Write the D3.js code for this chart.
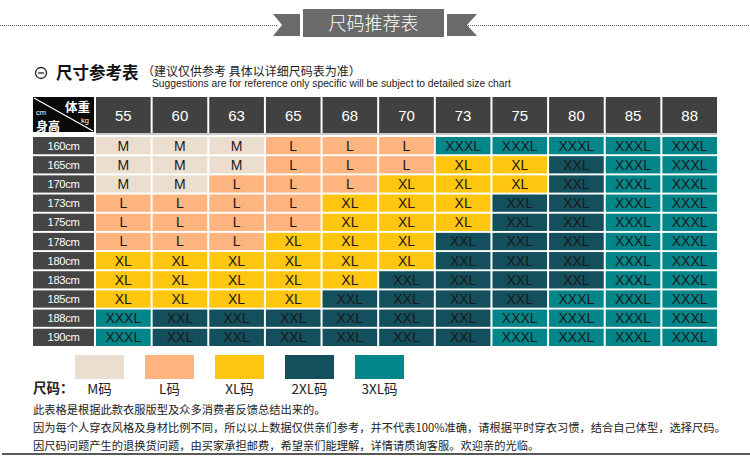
<!DOCTYPE html>
<html>
<head>
<meta charset="utf-8">
<script src="https://cdn.jsdelivr.net/npm/d3@7"></script>
<style>
  body { margin: 0; background: #fff; }
  svg { display: block; }
</style>
</head>
<body>
<div class="canvas"></div>
<script>
// weights along the top, heights down the side
const weights = ['55', '60', '63', '65', '68', '70', '73', '75', '80', '85', '88'];
const heights = ['160cm', '165cm', '170cm', '173cm', '175cm', '178cm', '180cm', '183cm', '185cm', '188cm', '190cm'];

// one row per height, one entry per weight
const sizeRows = [
    ['M', 'M', 'M', 'L', 'L', 'L', 'XXXL', 'XXXL', 'XXXL', 'XXXL', 'XXXL'],
    ['M', 'M', 'M', 'L', 'L', 'L', 'XL', 'XL', 'XXL', 'XXXL', 'XXXL'],
    ['M', 'M', 'L', 'L', 'L', 'XL', 'XL', 'XL', 'XXL', 'XXXL', 'XXXL'],
    ['L', 'L', 'L', 'L', 'XL', 'XL', 'XL', 'XXL', 'XXL', 'XXXL', 'XXXL'],
    ['L', 'L', 'L', 'L', 'XL', 'XL', 'XL', 'XXL', 'XXL', 'XXXL', 'XXXL'],
    ['L', 'L', 'L', 'XL', 'XL', 'XL', 'XXL', 'XXL', 'XXL', 'XXXL', 'XXXL'],
    ['XL', 'XL', 'XL', 'XL', 'XL', 'XL', 'XXL', 'XXL', 'XXL', 'XXXL', 'XXXL'],
    ['XL', 'XL', 'XL', 'XL', 'XL', 'XXL', 'XXL', 'XXL', 'XXL', 'XXXL', 'XXXL'],
    ['XL', 'XL', 'XL', 'XL', 'XXL', 'XXL', 'XXL', 'XXL', 'XXXL', 'XXXL', 'XXXL'],
    ['XXXL', 'XXL', 'XXL', 'XXL', 'XXL', 'XXL', 'XXL', 'XXXL', 'XXXL', 'XXXL', 'XXXL'],
    ['XXXL', 'XXL', 'XXL', 'XXL', 'XXL', 'XXL', 'XXL', 'XXXL', 'XXXL', 'XXXL', 'XXXL']
];

const sizeKeys = ['M', 'L', 'XL', 'XXL', 'XXXL'];
const legendLabels = ['M码', 'L码', 'XL码', '2XL码', '3XL码'];
const sizeColours = ['#ecdecf', '#fdb47e', '#fec60f', '#134f5c', '#03868a'];

const notes = [
    '此表格是根据此款衣服版型及众多消费者反馈总结出来的。',
    '因为每个人穿衣风格及身材比例不同，所以以上数据仅供亲们参考，并不代表100%准确，请根据平时穿衣习惯，结合自己体型，选择尺码。',
    '因尺码问题产生的退换货问题，由买家承担邮费，希望亲们能理解，详情请质询客服。欢迎亲的光临。'
];

const cjk = '"Noto Sans CJK SC", sans-serif';
const latin = '"Liberation Sans", Arial, sans-serif';

const dims = { width: 750, height: 473 };

const svg = d3.select('.canvas')
    .append('svg')
    .attr('width', dims.width)
    .attr('height', dims.height)
;

// ---- banner at the top
const banner = svg.append('g');
banner.append('line')
    .attr('x1', 0).attr('x2', 278).attr('y1', 25.5).attr('y2', 25.5)
    .attr('stroke', '#666').attr('stroke-dasharray', '1,1');
banner.append('line')
    .attr('x1', 468).attr('x2', 750).attr('y1', 25.5).attr('y2', 25.5)
    .attr('stroke', '#666').attr('stroke-dasharray', '1,1');
banner.append('polygon')
    .attr('points', '273,14 300,14 300,36 273,36 282,25')
    .attr('fill', '#6a6a6a');
banner.append('polygon')
    .attr('points', '447,14 477,14 467,25 477,36 447,36')
    .attr('fill', '#6a6a6a');
banner.append('rect')
    .attr('x', 303).attr('y', 9).attr('width', 141).attr('height', 28)
    .attr('fill', '#6a6a6a');
banner.append('text')
    .attr('x', 373.5).attr('y', 29.5)
    .attr('text-anchor', 'middle')
    .attr('font-family', cjk).attr('font-size', 18).attr('font-weight', 300)
    .attr('fill', '#fff')
    .text('尺码推荐表');

// ---- section title
const title = svg.append('g');
title.append('circle')
    .attr('cx', 41).attr('cy', 73).attr('r', 5.5)
    .attr('fill', 'none').attr('stroke', '#222').attr('stroke-width', 1.3);
title.append('line')
    .attr('x1', 38).attr('x2', 44).attr('y1', 73).attr('y2', 73)
    .attr('stroke', '#222').attr('stroke-width', 1.3);
title.append('text')
    .attr('x', 56).attr('y', 79)
    .attr('font-family', cjk).attr('font-size', 16.5).attr('font-weight', 700)
    .attr('fill', '#111')
    .text('尺寸参考表');
title.append('text')
    .attr('x', 142).attr('y', 75.5)
    .attr('font-family', cjk).attr('font-size', 12)
    .attr('fill', '#222')
    .text('（建议仅供参考 具体以详细尺码表为准）');
title.append('text')
    .attr('x', 152).attr('y', 87)
    .attr('font-family', latin).attr('font-size', 10.3)
    .attr('fill', '#222')
    .text('Suggestions are for reference only specific will be subject to detailed size chart');

// ---- scales
const x = d3.scaleBand()
    .domain(weights)
    .range([96, 717])
    .paddingInner(0.035)
;
const y = d3.scaleBand()
    .domain(heights)
    .range([137, 346])
    .paddingInner(0.1)
;
const colour = d3.scaleOrdinal()
    .domain(sizeKeys)
    .range(sizeColours)
;

const header = { top: 97, bottom: 133 };
const rowLabel = { x: 33, width: 61 };

// ---- header row
const headGroup = svg.append('g');
headGroup.selectAll('rect')
    .data(weights)
    .enter()
    .append('rect')
    .attr('x', d => x(d))
    .attr('y', header.top)
    .attr('width', x.bandwidth())
    .attr('height', header.bottom - header.top)
    .attr('fill', '#414141');
headGroup.selectAll('text')
    .data(weights)
    .enter()
    .append('text')
    .attr('x', d => x(d) + x.bandwidth() / 2)
    .attr('y', (header.top + header.bottom) / 2 + 5.5)
    .attr('text-anchor', 'middle')
    .attr('font-family', latin).attr('font-size', 15)
    .attr('fill', '#fff')
    .text(d => d);
headGroup.append('rect')
    .attr('x', x.range()[0]).attr('y', header.bottom)
    .attr('width', x.range()[1] - x.range()[0]).attr('height', 2)
    .attr('fill', '#c9c9c9');

// corner cell
const corner = svg.append('g');
corner.append('rect')
    .attr('x', rowLabel.x).attr('y', header.top)
    .attr('width', rowLabel.width).attr('height', header.bottom - header.top - 1)
    .attr('fill', '#0a0a0a');
corner.append('line')
    .attr('x1', rowLabel.x + 1).attr('y1', header.top + 1)
    .attr('x2', rowLabel.x + rowLabel.width - 1).attr('y2', header.bottom - 2)
    .attr('stroke', '#fff').attr('stroke-width', 1.2);
corner.append('text')
    .attr('x', 90).attr('y', 112)
    .attr('text-anchor', 'end')
    .attr('font-family', cjk).attr('font-size', 12.5).attr('font-weight', 700)
    .attr('fill', '#fff')
    .text('体重');
corner.append('text')
    .attr('x', 89).attr('y', 122.5)
    .attr('text-anchor', 'end')
    .attr('font-family', latin).attr('font-size', 7.5)
    .attr('fill', '#fff')
    .text('kg');
corner.append('text')
    .attr('x', 36).attr('y', 114.5)
    .attr('font-family', latin).attr('font-size', 7.5)
    .attr('fill', '#fff')
    .text('cm');
corner.append('text')
    .attr('x', 36).attr('y', 131)
    .attr('font-family', cjk).attr('font-size', 12).attr('font-weight', 700)
    .attr('fill', '#fff')
    .text('身高');

// ---- row labels
const rowGroup = svg.append('g');
rowGroup.selectAll('rect')
    .data(heights)
    .enter()
    .append('rect')
    .attr('x', rowLabel.x)
    .attr('y', d => y(d))
    .attr('width', rowLabel.width)
    .attr('height', y.bandwidth())
    .attr('fill', '#454545');
rowGroup.selectAll('text')
    .data(heights)
    .enter()
    .append('text')
    .attr('x', rowLabel.x + rowLabel.width / 2)
    .attr('y', d => y(d) + y.bandwidth() / 2 + 4)
    .attr('text-anchor', 'middle')
    .attr('font-family', latin).attr('font-size', 11.2)
    .attr('letter-spacing', -0.3)
    .attr('fill', '#fff')
    .text(d => d);

// ---- cells
const cells = [];
heights.forEach((h, r) => {
    weights.forEach((w, c) => {
        cells.push({ h, w, size: sizeRows[r][c] });
    });
});

const cellGroup = svg.append('g');
const cell = cellGroup.selectAll('g')
    .data(cells)
    .enter()
    .append('g')
    .attr('transform', d => `translate(${x(d.w)}, ${y(d.h)})`);
cell.append('rect')
    .attr('width', x.bandwidth())
    .attr('height', y.bandwidth())
    .attr('fill', d => colour(d.size));
cell.append('text')
    .attr('x', x.bandwidth() / 2)
    .attr('y', y.bandwidth() / 2 + 5)
    .attr('text-anchor', 'middle')
    .attr('font-family', latin).attr('font-size', 14)
    .attr('fill', '#1a1a1a')
    .text(d => d.size);

// ---- legend
const lx = d3.scaleBand()
    .domain(sizeKeys)
    .range([75, 404])
    .paddingInner(0.3)
;
const legendGroup = svg.append('g');
legendGroup.append('text')
    .attr('x', 33).attr('y', 393)
    .attr('font-family', cjk).attr('font-size', 13.5).attr('font-weight', 700)
    .attr('fill', '#222')
    .text('尺码：');
legendGroup.selectAll('rect')
    .data(sizeKeys)
    .enter()
    .append('rect')
    .attr('x', d => lx(d))
    .attr('y', 355)
    .attr('width', lx.bandwidth())
    .attr('height', 24)
    .attr('fill', d => colour(d));
legendGroup.selectAll('text.lbl')
    .data(sizeKeys)
    .enter()
    .append('text')
    .attr('class', 'lbl')
    .attr('x', d => lx(d) + lx.bandwidth() / 2)
    .attr('y', 394)
    .attr('text-anchor', 'middle')
    .attr('font-family', cjk).attr('font-size', 13.5)
    .attr('fill', '#222')
    .text((d, i) => legendLabels[i]);

// ---- notes
svg.append('g').selectAll('text')
    .data(notes)
    .enter()
    .append('text')
    .attr('x', 33)
    .attr('y', (d, i) => 413.5 + i * 18)
    .attr('font-family', cjk).attr('font-size', 11.25)
    .attr('fill', '#222')
    .text(d => d);

svg.append('line')
    .attr('x1', 2).attr('x2', 750).attr('y1', 454).attr('y2', 454)
    .attr('stroke', '#222').attr('stroke-width', 1.5);
</script>
</body>
</html>
